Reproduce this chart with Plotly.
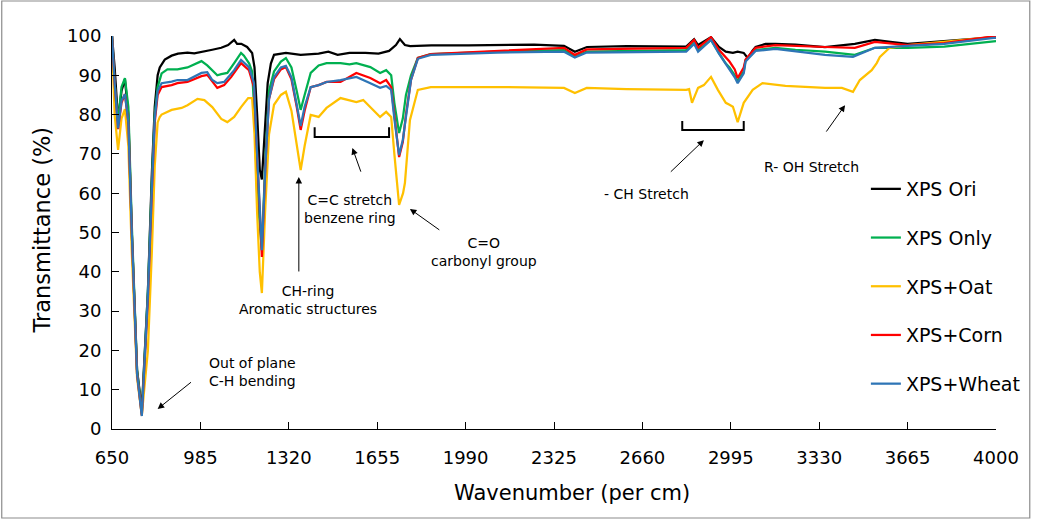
import plotly.graph_objects as go

# ---------------- data ----------------
wn_ori = [650, 660, 673, 686, 699, 712, 725, 745, 763, 786, 801, 812, 823, 831, 850, 876, 900, 936, 962,
          1000, 1030, 1064, 1090, 1113, 1124, 1140, 1162, 1181, 1190, 1200, 1210, 1218, 1228, 1240, 1252, 1264,
          1309, 1365, 1433, 1470, 1505, 1550, 1610, 1660, 1700, 1726, 1741, 1760, 1780, 1860, 2000, 2110,
          2250, 2363, 2404, 2450, 2600, 2826, 2856, 2871, 2893, 2920, 2950, 2976, 3003, 3021, 3044, 3059,
          3078, 3089, 3127, 3164, 3240, 3352, 3465, 3541, 3600, 3665, 3729, 3850, 3992, 4000]
t_ori = [100, 92, 78.5, 86, 89, 80, 50, 15, 5, 35, 65, 82, 90, 92, 94, 95, 95.5, 95.8, 95.6,
         96, 96.5, 97, 97.7, 99, 98, 98, 97.2, 95.7, 92, 80, 66, 63.5, 75, 88, 93, 95.2,
         95.7, 95.2, 95.5, 96, 95.2, 95.7, 95.7, 95.5, 96.2, 97.7, 99.2, 97.7, 97.4, 97.6, 97.6, 97.7,
         97.8, 97.5, 96, 97.2, 97.4, 97.3, 99.2, 97.7, 98.5, 99.7, 97.2, 96, 95.7, 96, 95.7, 94.4,
         96.3, 97.2, 98, 98, 97.8, 97.2, 98, 99, 98.5, 98, 98.3, 99, 99.7, 99.7]

wn_only = [650, 660, 673, 686, 699, 712, 725, 745, 763, 786, 801, 812, 823, 838, 860, 898, 936, 989, 1011,
           1030, 1049, 1064, 1087, 1113, 1139, 1150, 1170, 1181, 1190, 1200, 1218, 1232, 1245, 1264, 1290,
           1309, 1330, 1350, 1365, 1380, 1403, 1433, 1463, 1516, 1550, 1576, 1629, 1666, 1689, 1708, 1720,
           1738, 1752, 1764, 1783, 1809, 1858, 2110, 2363, 2404, 2449, 2826, 2856, 2871, 2920, 2950, 2976,
           2990, 3010, 3021, 3044, 3051, 3089, 3164, 3240, 3352, 3465, 3541, 3665, 3804, 3992, 4000]
t_only = [100, 88, 78.5, 87, 89.3, 82, 52, 15, 4, 35, 63, 80, 87, 90.5, 91.5, 91.5, 92, 93.6, 92.5,
          91.3, 90, 90.3, 90.6, 93.1, 95.7, 95, 93, 91, 80, 60, 45.5, 70, 86, 91, 93.5,
          94.4, 92, 86, 81.2, 85, 90.6, 92.5, 93.1, 93.1, 92.8, 93.1, 92.1, 90.6, 91.3, 90, 83,
          75.3, 79, 85, 90, 94.4, 95.4, 96, 96.4, 94.7, 96, 96.4, 98.2, 96.4, 99, 95.7, 93,
          92, 90, 88.5, 91, 93.9, 96.4, 97, 96.5, 96, 95.2, 97, 97, 97.3, 98.7, 98.7]

wn_oat = [650, 660, 673, 686, 699, 712, 725, 745, 763, 786, 801, 812, 823, 831, 838, 876, 914, 936, 974,
          1000, 1030, 1064, 1087, 1113, 1139, 1166, 1181, 1190, 1200, 1210, 1218, 1230, 1245, 1264, 1290,
          1309, 1330, 1350, 1365, 1380, 1403, 1433, 1463, 1516, 1576, 1602, 1629, 1666, 1689, 1708, 1720,
          1738, 1753, 1760, 1779, 1809, 1858, 2110, 2363, 2404, 2449, 2600, 2826, 2837, 2848, 2871, 2893,
          2920, 2946, 2976, 2990, 3003, 3021, 3044, 3078, 3115, 3202, 3352, 3416, 3458, 3484, 3529, 3548,
          3560, 3597, 3665, 3800, 3992, 4000]
t_oat = [99, 80, 71, 79, 81.4, 72, 45, 13, 3.5, 20, 45, 67, 78, 79.4, 80, 81.2, 81.7, 82.4, 84,
         83.7, 81.9, 78.9, 78.1, 79.4, 81.9, 84.2, 84.2, 75, 55, 40, 34.6, 55, 75, 82.5, 85,
         85.8, 81, 72, 65.9, 72, 79.9, 79.4, 81.7, 84.2, 83.2, 83.7, 81.9, 79.4, 80.7, 79.4, 70,
         57, 60, 62.6, 78.6, 86.3, 87, 87, 86.8, 85.5, 86.8, 86.5, 86.3, 86.5, 83, 86.8, 87.5,
         89.6, 86.3, 83, 82.5, 82, 78.1, 83, 86.3, 88, 87.3, 86.8, 86.8, 85.8, 88.8, 91.3, 93.1,
         94.7, 97, 97.7, 98.5, 99.8, 99.8]

wn_corn = [650, 660, 673, 686, 699, 712, 725, 745, 763, 786, 801, 812, 823, 838, 876, 898, 936, 989, 1011,
           1030, 1049, 1075, 1102, 1139, 1169, 1188, 1200, 1210, 1218, 1232, 1245, 1264, 1290, 1309, 1330,
           1350, 1365, 1380, 1403, 1433, 1463, 1516, 1576, 1629, 1666, 1689, 1708, 1720, 1738, 1752, 1764,
           1783, 1809, 1858, 2110, 2363, 2404, 2449, 2826, 2856, 2871, 2920, 2950, 2976, 2990, 3010, 3021,
           3044, 3051, 3089, 3164, 3352, 3465, 3541, 3665, 3804, 3992, 4000]
t_corn = [100, 88, 76.3, 83, 85.2, 78, 50, 14, 3.5, 33, 60, 78, 85, 87, 87.5, 88, 88.3, 89.8, 90.1,
          88.3, 86.8, 87.5, 89.6, 93.1, 91.3, 87, 70, 52, 43.8, 68, 84, 89, 91.5, 92.1, 89,
          82, 76.1, 81, 87, 87.5, 88.3, 88.3, 90.6, 89.3, 88, 88.8, 87, 80, 69.2, 73, 80,
          88.8, 94.4, 95.4, 96.2, 97, 95.2, 96.6, 97, 99, 97, 99.7, 96.5, 94.5, 93.5, 91.5, 89.3,
          92, 94, 97, 97.7, 97.2, 97, 98.5, 97.7, 98.2, 100, 100]

wn_wheat = [650, 660, 673, 686, 699, 712, 725, 745, 763, 786, 801, 812, 823, 838, 876, 898, 936, 989, 1011,
            1030, 1049, 1075, 1113, 1139, 1169, 1188, 1200, 1210, 1218, 1232, 1245, 1264, 1290, 1309, 1330,
            1350, 1365, 1380, 1403, 1433, 1463, 1516, 1576, 1629, 1666, 1689, 1708, 1720, 1738, 1752, 1764,
            1783, 1809, 1858, 2110, 2363, 2404, 2449, 2826, 2856, 2871, 2920, 2950, 2976, 2990, 3010, 3021,
            3044, 3051, 3089, 3164, 3352, 3458, 3541, 3665, 3804, 3992, 4000]
t_wheat = [100, 88, 76.5, 83.5, 85.2, 78, 50, 14, 3.3, 34, 61, 79, 86, 88, 88.4, 88.8, 88.8, 90.6, 90.8,
           88.8, 88, 88.3, 91.3, 93.9, 92.1, 88, 70, 55, 45.5, 68, 84, 89.5, 92, 92.4, 89.5,
           82.5, 77.1, 82, 87, 87.5, 88.3, 88.8, 89.6, 88, 86.8, 87.3, 86.3, 79, 69.7, 73.5, 80,
           88.8, 94.2, 95.2, 95.8, 96, 94.5, 95.8, 96, 98, 96, 99, 95.5, 93, 91.5, 89.5, 88,
           90.5, 93.5, 96.2, 96.7, 95.2, 94.7, 97, 97.5, 98, 99.5, 99.5]

series_names = ["XPS Ori", "XPS Only", "XPS+Oat", "XPS+Corn", "XPS+Wheat"]
series_x = [wn_ori, wn_only, wn_oat, wn_corn, wn_wheat]
series_y = [t_ori, t_only, t_oat, t_corn, t_wheat]
series_colors = ["#000000", "#00b050", "#ffc000", "#ff0000", "#2e75b6"]

x_ticks = [650, 985, 1320, 1655, 1990, 2325, 2660, 2995, 3330, 3665, 4000]
y_ticks = [0, 10, 20, 30, 40, 50, 60, 70, 80, 90, 100]

FONT = "DejaVu Sans"

fig = go.Figure()
for i, (nm, xs, ys, col) in enumerate(zip(series_names, series_x, series_y, series_colors)):
    fig.add_trace(go.Scatter(x=xs, y=ys, mode="lines", name=nm, legendgroup=nm,
                             line=dict(color=col, width=2.25)))

# annotation texts with arrows (head xy, tail axy) in data units
labels = [
    dict(text="Out of plane<br>C-H bending", x=1011, y=14.6, xanchor="left"),
    dict(text="CH-ring<br>Aromatic structures", x=1391, y=32.8, xanchor="center"),
    dict(text="C=C stretch<br>benzene ring", x=1553, y=56, xanchor="center"),
    dict(text="C=O<br>carbonyl group", x=2061, y=45, xanchor="center"),
    dict(text="- CH Stretch", x=2675, y=59.8, xanchor="center"),
    dict(text="R- OH Stretch", x=3300, y=66.7, xanchor="center"),
]
for lb in labels:
    fig.add_annotation(text=lb["text"], x=lb["x"], y=lb["y"], xref="x", yref="y",
                       xanchor=lb["xanchor"], yanchor="middle", showarrow=False,
                       align="center" if lb["xanchor"] == "center" else "left",
                       font=dict(family=FONT, size=14, color="#000000"))

arrows = [
    ((823, 5.1), (955, 12.2)),
    ((1358, 64.1), (1358, 39.7)),
    ((1561, 71.5), (1595, 65.1)),
    ((1779, 56.0), (1896, 50.4)),
    ((2893, 73.5), (2762, 65.1)),
    ((3428, 82.4), (3353, 75.3)),
]
for (hx, hy), (tx, ty) in arrows:
    fig.add_annotation(x=hx, y=hy, ax=tx, ay=ty, xref="x", yref="y", axref="x", ayref="y",
                       text="", showarrow=True, arrowhead=2, arrowsize=1.3, arrowwidth=1,
                       arrowcolor="#000000")

# brackets
brackets = [((1418, 1700), 74.3, 76.8), ((2811, 3044), 76.1, 78.4)]
for (x0, x1), yb, yt in brackets:
    fig.add_shape(type="path", xref="x", yref="y",
                  path=f"M {x0},{yt} L {x0},{yb} L {x1},{yb} L {x1},{yt}",
                  line=dict(color="#000000", width=2))

# axis titles
fig.add_annotation(text="Wavenumber (per cm)", xref="paper", yref="paper",
                   x=(575 - 112) / 890, y=-(493 - 429) / 393, xanchor="center", yanchor="middle",
                   showarrow=False, font=dict(family=FONT, size=21, color="#000000"))
fig.add_annotation(text="Transmittance (%)", xref="paper", yref="paper",
                   x=-(112 - 42) / 890, y=(429 - 230) / 393, xanchor="center", yanchor="middle",
                   textangle=-90, showarrow=False, font=dict(family=FONT, size=22.5, color="#000000"))

# outer chart border
fig.add_shape(type="rect", xref="paper", yref="paper",
              x0=-(112 - 1) / 890, x1=1 + (1036 - 1002) / 890,
              y0=-(518 - 429) / 393, y1=1 + (36 - 1) / 393,
              line=dict(color="#8c8c8c", width=1.2), layer="below")

fig.update_layout(
    width=1038, height=520,
    margin=dict(l=112, r=36, t=36, b=91),
    paper_bgcolor="white", plot_bgcolor="white",
    font=dict(family=FONT, size=18, color="#000000"),
    showlegend=True,
    legend=dict(x=(871 - 112) / 890, xanchor="left", y=(429 - 170) / 393, yanchor="top",
                font=dict(family=FONT, size=19, color="#000000"),
                tracegroupgap=21, bgcolor="rgba(0,0,0,0)", itemwidth=30),
    xaxis=dict(range=[650, 4000], tickvals=x_ticks, ticktext=[str(v) for v in x_ticks],
               ticks="inside", ticklen=7, tickcolor="#000000", showline=True, linecolor="#000000",
               linewidth=1, showgrid=False, zeroline=False, mirror=False,
               tickfont=dict(family=FONT, size=18, color="#000000"), ticklabelstandoff=12),
    yaxis=dict(range=[0, 100], tickvals=y_ticks, ticks="inside", ticklen=7, tickcolor="#000000",
               showline=True, linecolor="#000000", linewidth=1, showgrid=False, zeroline=False,
               tickfont=dict(family=FONT, size=18, color="#000000"), ticklabelstandoff=6),
)

fig.write_html("out.html", config={"displayModeBar": False},
               post_script="document.body.style.margin='0';document.body.style.overflow='hidden';")
